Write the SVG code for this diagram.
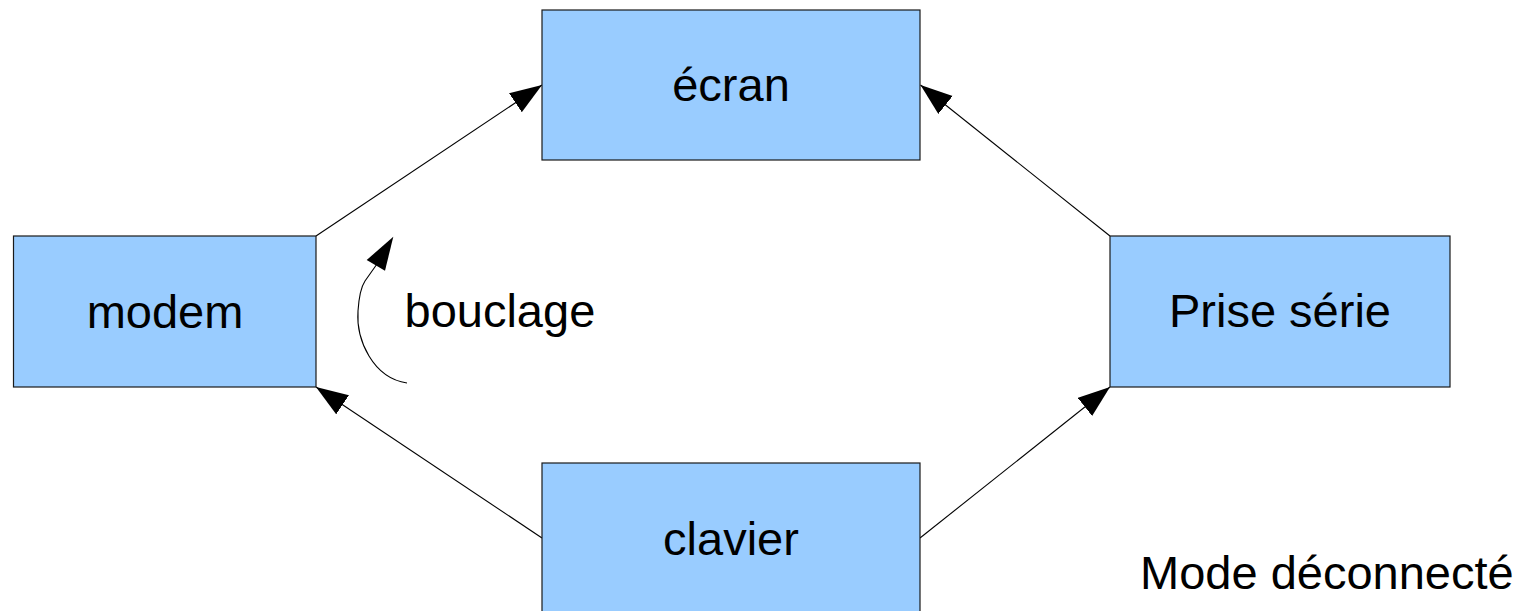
<svg xmlns="http://www.w3.org/2000/svg" width="1535" height="611" viewBox="0 0 1535 611">
<style>
.box{fill:#99ccff;stroke:#1a1a1a;stroke-width:1.2}
.lbl{font-family:"Liberation Sans",Arial,sans-serif;font-size:47px;fill:#000}
.c{text-anchor:middle}
.conn{fill:none;stroke:#000;stroke-width:1.1}
</style>
<defs>
<marker id="ah" markerUnits="userSpaceOnUse" markerWidth="34" markerHeight="24" refX="32" refY="11.5" orient="auto" viewBox="0 0 34 24">
<path d="M0,0 L32,11.5 L0,23 z" fill="#000"/>
</marker>
</defs>
<rect width="1535" height="611" fill="#fff"/>
<g id="connectors">
<line class="conn" x1="316" y1="236" x2="542" y2="85" marker-end="url(#ah)"/>
<line class="conn" x1="1110" y1="236" x2="920.5" y2="85" marker-end="url(#ah)"/>
<line class="conn" x1="542" y1="538" x2="316" y2="387" marker-end="url(#ah)"/>
<line class="conn" x1="920" y1="538" x2="1110" y2="387" marker-end="url(#ah)"/>
<path class="conn" d="M407,383 C373,378 356,340 358,311 C359,296 361,287 365,281 L377,264"/>
<polygon points="393.3,236.7 366.7,260 385,270.7" fill="#000"/>
</g>
<g id="ecran">
<rect class="box" x="542" y="10" width="378" height="150"/>
<text class="lbl c" x="731" y="101">écran</text>
</g>
<g id="modem">
<rect class="box" x="13.5" y="236" width="302.5" height="151"/>
<text class="lbl c" x="165" y="328">modem</text>
</g>
<g id="prise">
<rect class="box" x="1110" y="236" width="340" height="151"/>
<text class="lbl c" x="1280" y="327">Prise série</text>
</g>
<g id="clavier">
<rect class="box" x="542" y="463" width="378" height="160"/>
<text class="lbl c" x="731" y="555">clavier</text>
</g>
<g id="bouclage">
<text class="lbl" x="404.5" y="327">bouclage</text>
</g>
<g id="mode">
<text class="lbl" x="1140" y="589">Mode déconnecté</text>
</g>
</svg>
